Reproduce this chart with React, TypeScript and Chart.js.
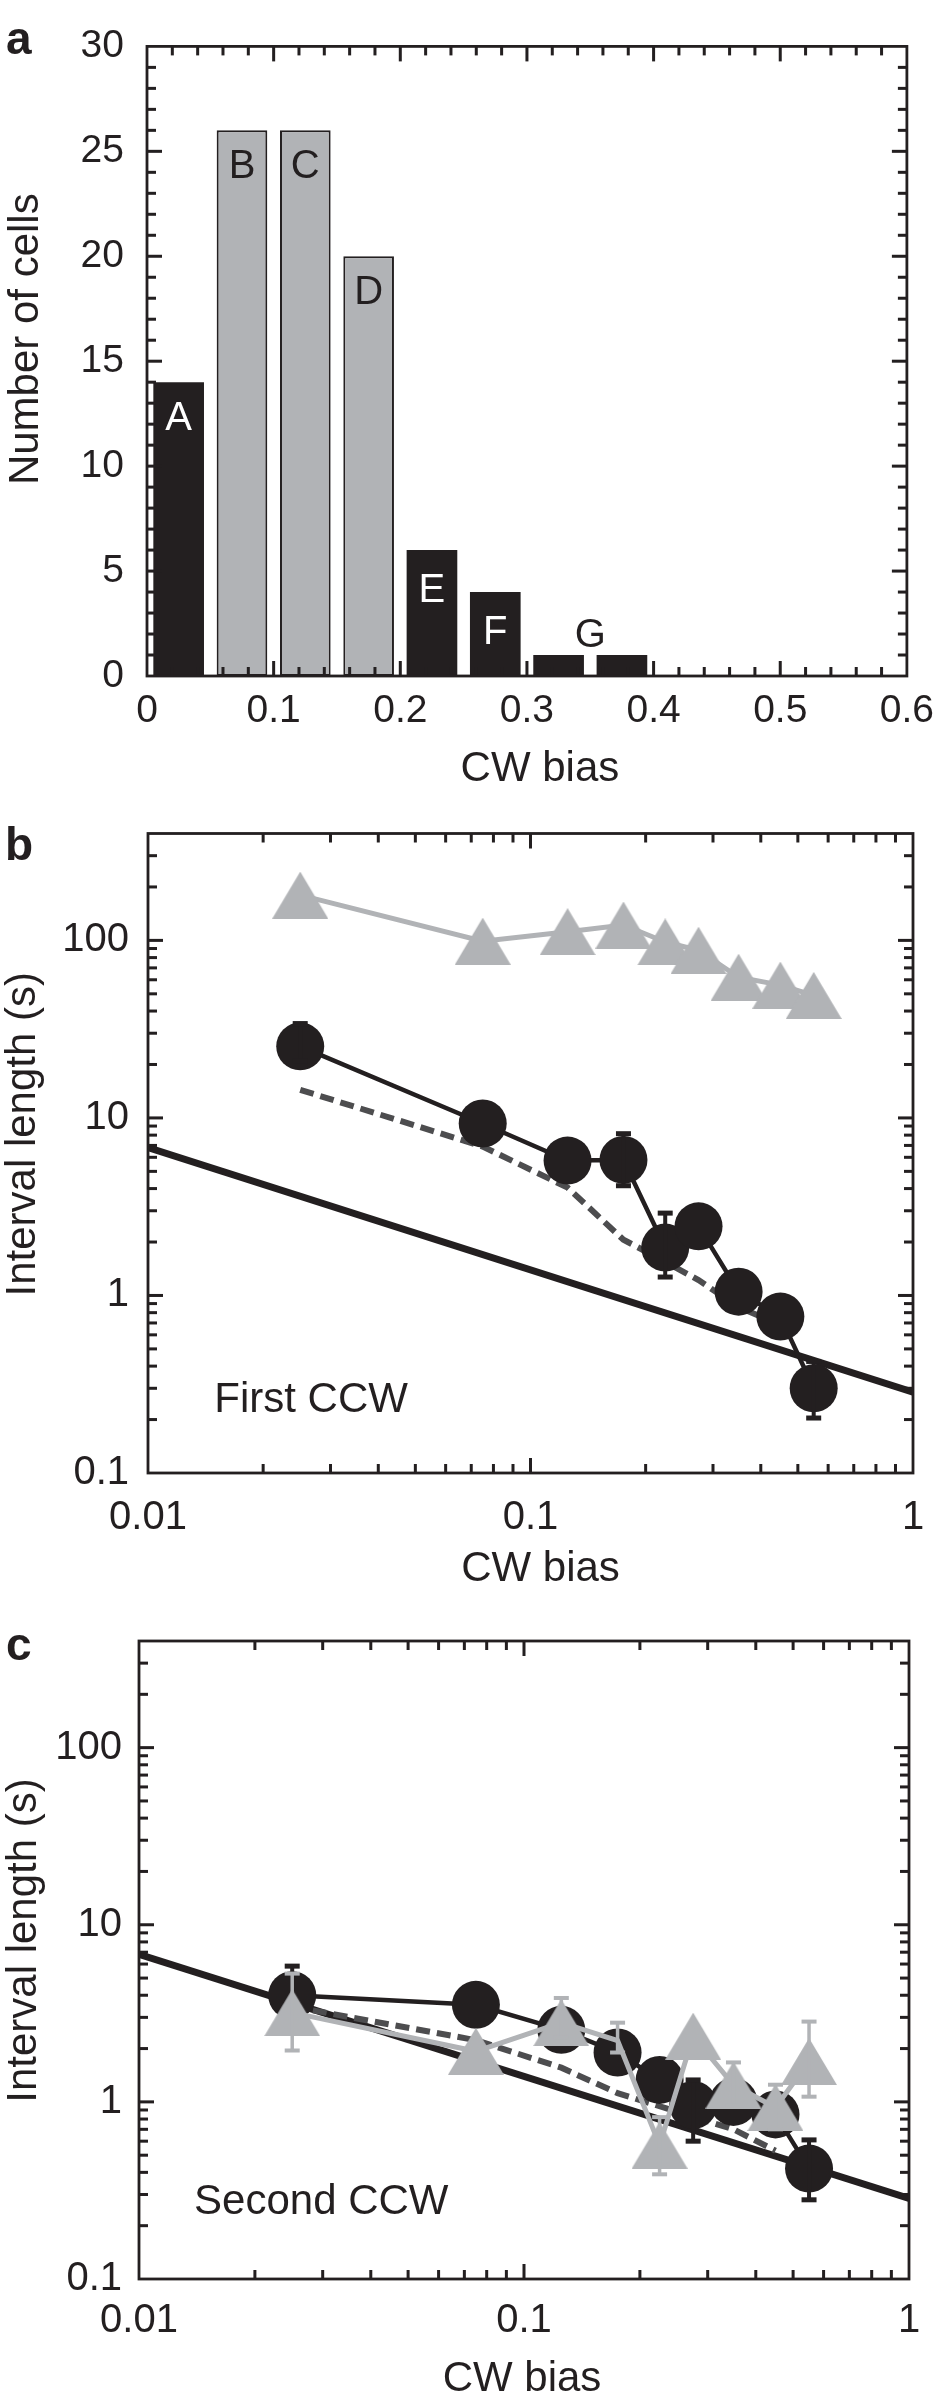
import React, { useEffect, useRef } from 'react';
import { Chart, registerables } from 'chart.js';

Chart.register(...registerables);

const FONT = '"Liberation Sans", Arial, Helvetica, sans-serif';
Chart.defaults.font.family = FONT;

const INK = '#231f20';
const GRAY = '#b1b3b6';
const MODEL_GRAY = '#4d4d4f';

// ---------------- Panel a: histogram ----------------
const binCenters = [0.025, 0.075, 0.125, 0.175, 0.225, 0.275, 0.325, 0.375];
const cellCounts = [14, 26, 26, 20, 6, 4, 1, 1];
const binIsGray = [false, true, true, true, false, false, false, false];
const groupLetters = ['A', 'B', 'C', 'D', 'E', 'F', 'G'];
const groupLetterBias = [0.025, 0.075, 0.125, 0.175, 0.225, 0.275, 0.35];
const groupLetterCount = [12.4, 24.4, 24.4, 18.4, 4.2, 2.2, 2.05];
const groupLetterWhite = [true, false, false, false, true, true, false];
const histXTicks = [0, 0.1, 0.2, 0.3, 0.4, 0.5, 0.6];
const histXTickLabels = ['0', '0.1', '0.2', '0.3', '0.4', '0.5', '0.6'];
const histYTicks = [0, 5, 10, 15, 20, 25, 30];
const histYTickLabels = ['0', '5', '10', '15', '20', '25', '30'];

// ---------------- Panels b and c: shared ----------------
const cwBias = [0.025, 0.075, 0.125, 0.175, 0.225, 0.275, 0.35, 0.45, 0.55];
const logXTicks = [0.01, 0.1, 1];
const logXTickLabels = ['0.01', '0.1', '1'];
const logYTicks = [0.1, 1, 10, 100];
const logYTickLabels = ['0.1', '1', '10', '100'];
const powerLawBias = [0.01, 1];
const powerLawLength = [6.8, 0.285];

// ---------------- Panel b: first CCW ----------------
const cwIntervalB = [180, 99, 112, 122, 98, 88, 62, 56, 49];
const ccwIntervalB = [25.3, 9.3, 5.75, 5.8, 1.86, 2.45, 1.05, 0.76, 0.3];
const ccwErrLowB = [21, null, null, 4.15, 1.27, null, null, null, 0.204];
const ccwErrHighB = [34, null, null, 8.15, 2.91, null, null, null, 0.425];
const modelBiasB = [0.025, 0.075, 0.125, 0.175, 0.225, 0.275, 0.35, 0.45];
const modelIntervalB = [14.4, 6.9, 4.05, 2.06, 1.55, 1.22, 0.86, 0.68];

// ---------------- Panel c: second CCW ----------------
const cwIntervalC = [3.19, 1.93, 2.8, 2.22, 0.57, 2.35, 1.245, 0.93, 1.69];
const cwMarkerShownC = [true, true, true, false, true, true, true, true, true];
const cwErrLowC = [1.95, null, 2.3, 1.9, 0.39, null, 0.95, 0.7, 1.07];
const cwErrHighC = [5.3, null, 3.86, 2.8, 0.82, null, 1.67, 1.25, 2.84];
const ccwIntervalC = [4.0, 3.53, 2.55, 1.9, 1.33, 0.96, 1.0, 0.85, 0.42];
const ccwErrLowC = [2.8, null, null, null, null, 0.6, null, null, 0.28];
const ccwErrHighC = [5.84, null, null, null, null, 1.33, null, null, 0.61];
const modelBiasC = [0.025, 0.075, 0.125, 0.175, 0.35, 0.45];
const modelIntervalC = [3.45, 2.23, 1.56, 1.12, 0.7, 0.53];

type Note = { text: string; x: number; y: number; color: string; size: number; align: CanvasTextAlign; centered: boolean };

type TextCfg = {
  letter: string;
  letterX: number;
  letterDy: number;
  xTitle: string;
  xTitleDx: number;
  xTitleDy: number;
  yTitle: string;
  yTitleX: number;
  yTitleDy: number;
  notes: Note[];
};

function framePlugin(cfg: { xMajor: number[]; xMinor: number[]; yMajor: number[]; yMinor: number[] }) {
  return {
    id: 'frameTicks',
    afterDraw(chart: any) {
      const { ctx, chartArea, scales } = chart;
      const { left, right, top, bottom } = chartArea;
      const xs = scales.x;
      const ys = scales.y;
      const MAJ = 15;
      const MIN = 9;
      const W = 3;
      ctx.save();
      ctx.fillStyle = INK;
      const vx = (vals: number[], len: number) => {
        for (const v of vals) {
          const p = xs.getPixelForValue(v);
          if (!(p > left + 1 && p < right - 1)) continue;
          ctx.fillRect(p - W / 2, bottom - len, W, len);
          ctx.fillRect(p - W / 2, top, W, len);
        }
      };
      const vy = (vals: number[], len: number) => {
        for (const v of vals) {
          const p = ys.getPixelForValue(v);
          if (!(p > top + 1 && p < bottom - 1)) continue;
          ctx.fillRect(left, p - W / 2, len, W);
          ctx.fillRect(right - len, p - W / 2, len, W);
        }
      };
      vx(cfg.xMajor, MAJ);
      vx(cfg.xMinor, MIN);
      vy(cfg.yMajor, MAJ);
      vy(cfg.yMinor, MIN);
      ctx.strokeStyle = INK;
      ctx.lineWidth = 2.8;
      ctx.setLineDash([]);
      ctx.strokeRect(left, top, right - left, bottom - top);
      ctx.restore();
    },
  };
}

function textPlugin(cfg: TextCfg) {
  return {
    id: 'panelText',
    afterDraw(chart: any) {
      const { ctx, chartArea, scales } = chart;
      const { left, right, top, bottom } = chartArea;
      const midX = (left + right) / 2;
      const midY = (top + bottom) / 2;
      ctx.save();
      ctx.fillStyle = INK;
      ctx.textBaseline = 'alphabetic';
      ctx.textAlign = 'left';
      ctx.font = `bold 46px ${FONT}`;
      ctx.fillText(cfg.letter, cfg.letterX, top + cfg.letterDy);

      ctx.font = `42px ${FONT}`;
      ctx.textAlign = 'center';
      ctx.fillText(cfg.xTitle, midX + cfg.xTitleDx, bottom + cfg.xTitleDy);

      ctx.save();
      ctx.translate(cfg.yTitleX, midY + cfg.yTitleDy);
      ctx.rotate(-Math.PI / 2);
      ctx.fillText(cfg.yTitle, 0, 0);
      ctx.restore();

      cfg.notes.forEach((n) => {
        ctx.font = `${n.size}px ${FONT}`;
        ctx.fillStyle = n.color;
        ctx.textAlign = n.align;
        ctx.textBaseline = 'alphabetic';
        const px = scales.x.getPixelForValue(n.x);
        const py = scales.y.getPixelForValue(n.y);
        ctx.fillText(n.text, px, n.centered ? py + n.size * 0.36 : py);
      });
      ctx.restore();
    },
  };
}

type ErrSpec = { low: (number | null)[]; high: (number | null)[]; color: string; width: number; capWidth: number };

function errorBarPlugin(specs: Record<number, ErrSpec>) {
  return {
    id: 'errorBars',
    afterDatasetDraw(chart: any, args: any) {
      const spec = specs[args.index];
      if (!spec) return;
      const ds = chart.data.datasets[args.index];
      const { ctx, scales } = chart;
      ctx.save();
      ctx.fillStyle = spec.color;
      ds.data.forEach((pt: any, i: number) => {
        const lo = spec.low[i];
        const hi = spec.high[i];
        if (lo == null || hi == null) return;
        const px = scales.x.getPixelForValue(pt.x);
        const pl = scales.y.getPixelForValue(lo);
        const ph = scales.y.getPixelForValue(hi);
        ctx.fillRect(px - spec.width / 2, Math.min(pl, ph), spec.width, Math.abs(pl - ph));
        ctx.fillRect(px - 7.5, pl - spec.capWidth / 2, 15, spec.capWidth);
        ctx.fillRect(px - 7.5, ph - spec.capWidth / 2, 15, spec.capWidth);
      });
      ctx.restore();
    },
  };
}

function makeTriangle(w: number, h: number, color: string) {
  const c = document.createElement('canvas');
  c.width = w;
  c.height = h;
  const g = c.getContext('2d')!;
  g.fillStyle = color;
  g.beginPath();
  g.moveTo(w / 2, 0);
  g.lineTo(w, h);
  g.lineTo(0, h);
  g.closePath();
  g.fill();
  return c;
}

function linearTicks(step: number, max: number) {
  const out: number[] = [];
  const n = Math.round(max / step);
  for (let i = 0; i <= n; i++) out.push(Number((i * step).toFixed(6)));
  return out;
}

function logMinorTicks(min: number, max: number) {
  const out: number[] = [];
  for (let e = Math.floor(Math.log10(min)); e <= Math.ceil(Math.log10(max)); e++) {
    for (let m = 2; m <= 9; m++) {
      const v = m * Math.pow(10, e);
      if (v > min && v < max) out.push(v);
    }
  }
  return out;
}

function buildHistogram(canvas: HTMLCanvasElement) {
  const tickFont = { family: FONT, size: 39 };
  return new Chart(canvas, {
    type: 'bar',
    data: {
      datasets: [
        {
          data: binCenters.map((x, i) => ({ x, y: cellCounts[i] })),
          backgroundColor: binIsGray.map((g) => (g ? GRAY : INK)),
          borderColor: INK,
          borderWidth: binIsGray.map((g) => (g ? 2 : 0)),
          borderSkipped: false,
          barPercentage: 0.8,
          categoryPercentage: 1,
        } as any,
      ],
    },
    options: {
      responsive: false,
      animation: false,
      events: [],
      layout: { padding: { left: 0, right: 29, top: 32, bottom: 0 } },
      plugins: { legend: { display: false }, tooltip: { enabled: false } },
      scales: {
        x: {
          type: 'linear',
          min: 0,
          max: 0.6,
          offset: false,
          grid: { display: false, drawTicks: false },
          border: { display: false },
          afterBuildTicks: (s: any) => {
            s.ticks = histXTicks.map((v) => ({ value: v }));
          },
          ticks: {
            callback: (_v: any, i: number) => histXTickLabels[i],
            font: tickFont,
            color: INK,
            padding: 12,
            maxRotation: 0,
            autoSkip: false,
          },
          afterFit: (s: any) => {
            s.height = 124;
          },
        } as any,
        y: {
          type: 'linear',
          min: 0,
          max: 30,
          grid: { display: false, drawTicks: false },
          border: { display: false },
          afterBuildTicks: (s: any) => {
            s.ticks = histYTicks.map((v) => ({ value: v }));
          },
          ticks: {
            callback: (_v: any, i: number) => histYTickLabels[i],
            font: tickFont,
            color: INK,
            padding: 23,
            autoSkip: false,
          },
          afterFit: (s: any) => {
            s.width = 147;
          },
        } as any,
      },
    },
    plugins: [
      framePlugin({
        xMajor: histXTicks,
        xMinor: linearTicks(0.02, 0.6).filter((v) => Math.abs(v * 10 - Math.round(v * 10)) > 1e-6),
        yMajor: histYTicks,
        yMinor: linearTicks(1, 30).filter((v) => v % 5 !== 0),
      }),
      textPlugin({
        letter: 'a',
        letterX: 6,
        letterDy: 8,
        xTitle: 'CW bias',
        xTitleDx: 13,
        xTitleDy: 105,
        yTitle: 'Number of cells',
        yTitleX: 38,
        yTitleDy: -22,
        notes: groupLetters.map((t, i) => ({
          text: t,
          x: groupLetterBias[i],
          y: groupLetterCount[i],
          color: groupLetterWhite[i] ? '#ffffff' : INK,
          size: 40,
          align: 'center' as CanvasTextAlign,
          centered: true,
        })),
      }),
    ],
  } as any);
}

type IntervalPanel = {
  cw: number[];
  cwShown: boolean[];
  cwLow: (number | null)[];
  cwHigh: (number | null)[];
  ccw: number[];
  ccwLow: (number | null)[];
  ccwHigh: (number | null)[];
  modelBias: number[];
  model: number[];
  padRight: number;
  padTop: number;
  yWidth: number;
  xHeight: number;
  xTickPad: number;
  yTickPad: number;
  text: TextCfg;
};

function buildIntervals(canvas: HTMLCanvasElement, p: IntervalPanel) {
  const tri = makeTriangle(56, 47, GRAY);
  const tickFont = { family: FONT, size: 40 };
  const yMin = 0.1;
  const yMax = 400;
  return new Chart(canvas, {
    type: 'line',
    data: {
      datasets: [
        {
          label: 'CW',
          data: cwBias.map((x, i) => ({ x, y: p.cw[i] })),
          borderColor: GRAY,
          borderWidth: 5,
          pointStyle: tri,
          pointRadius: p.cwShown.map((s) => (s ? 28 : 0)),
          tension: 0,
          fill: false,
          order: 0,
        },
        {
          label: 'CCW',
          data: cwBias.map((x, i) => ({ x, y: p.ccw[i] })),
          borderColor: INK,
          borderWidth: 4.5,
          pointStyle: 'circle',
          pointRadius: 24,
          pointBackgroundColor: INK,
          pointBorderWidth: 0,
          tension: 0,
          fill: false,
          order: 1,
        },
        {
          label: 'model',
          data: p.modelBias.map((x, i) => ({ x, y: p.model[i] })),
          borderColor: MODEL_GRAY,
          borderWidth: 6,
          borderDash: [14, 7],
          pointRadius: 0,
          tension: 0,
          fill: false,
          order: 2,
        },
        {
          label: 'power law',
          data: powerLawBias.map((x, i) => ({ x, y: powerLawLength[i] })),
          borderColor: INK,
          borderWidth: 7,
          pointRadius: 0,
          tension: 0,
          fill: false,
          order: 3,
        },
      ],
    },
    options: {
      responsive: false,
      animation: false,
      events: [],
      layout: { padding: { left: 0, right: p.padRight, top: p.padTop, bottom: 0 } },
      plugins: { legend: { display: false }, tooltip: { enabled: false } },
      scales: {
        x: {
          type: 'logarithmic',
          min: 0.01,
          max: 1,
          grid: { display: false, drawTicks: false },
          border: { display: false },
          afterBuildTicks: (s: any) => {
            s.ticks = logXTicks.map((v) => ({ value: v }));
          },
          ticks: {
            callback: (_v: any, i: number) => logXTickLabels[i],
            font: tickFont,
            color: INK,
            padding: p.xTickPad,
            maxRotation: 0,
            autoSkip: false,
          },
          afterFit: (s: any) => {
            s.height = p.xHeight;
          },
        } as any,
        y: {
          type: 'logarithmic',
          min: yMin,
          max: yMax,
          grid: { display: false, drawTicks: false },
          border: { display: false },
          afterBuildTicks: (s: any) => {
            s.ticks = logYTicks.map((v) => ({ value: v }));
          },
          ticks: {
            callback: (_v: any, i: number) => logYTickLabels[i],
            font: tickFont,
            color: INK,
            padding: p.yTickPad,
            autoSkip: false,
          },
          afterFit: (s: any) => {
            s.width = p.yWidth;
          },
        } as any,
      },
    },
    plugins: [
      errorBarPlugin({
        0: { low: p.cwLow, high: p.cwHigh, color: GRAY, width: 3.5, capWidth: 4 },
        1: { low: p.ccwLow, high: p.ccwHigh, color: INK, width: 4, capWidth: 5 },
      }),
      framePlugin({
        xMajor: logXTicks,
        xMinor: logMinorTicks(0.01, 1),
        yMajor: logYTicks,
        yMinor: logMinorTicks(yMin, yMax),
      }),
      textPlugin(p.text),
    ],
  } as any);
}

const panelB: IntervalPanel = {
  cw: cwIntervalB,
  cwShown: cwBias.map(() => true),
  cwLow: [],
  cwHigh: [],
  ccw: ccwIntervalB,
  ccwLow: ccwErrLowB,
  ccwHigh: ccwErrHighB,
  modelBias: modelBiasB,
  model: modelIntervalB,
  padRight: 27,
  padTop: 43.5,
  yWidth: 148,
  xHeight: 127,
  xTickPad: 21,
  yTickPad: 19,
  text: {
    letter: 'b',
    letterX: 5,
    letterDy: 26.5,
    xTitle: 'CW bias',
    xTitleDx: 10,
    xTitleDy: 108,
    yTitle: 'Interval length (s)',
    yTitleX: 35,
    yTitleDy: -19,
    notes: [{ text: 'First CCW', x: 0.0149, y: 0.221, color: INK, size: 42, align: 'left', centered: false }],
  },
};

const panelC: IntervalPanel = {
  cw: cwIntervalC,
  cwShown: cwMarkerShownC,
  cwLow: cwErrLowC,
  cwHigh: cwErrHighC,
  ccw: ccwIntervalC,
  ccwLow: ccwErrLowC,
  ccwHigh: ccwErrHighC,
  modelBias: modelBiasC,
  model: modelIntervalC,
  padRight: 37,
  padTop: 35,
  yWidth: 139,
  xHeight: 119,
  xTickPad: 18,
  yTickPad: 17,
  text: {
    letter: 'c',
    letterX: 6,
    letterDy: 19,
    xTitle: 'CW bias',
    xTitleDx: -2,
    xTitleDy: 112,
    yTitle: 'Interval length (s)',
    yTitleX: 36,
    yTitleDy: -19.5,
    notes: [{ text: 'Second CCW', x: 0.0139, y: 0.233, color: INK, size: 42, align: 'left', centered: false }],
  },
};

export default function App() {
  const aRef = useRef<HTMLCanvasElement>(null);
  const bRef = useRef<HTMLCanvasElement>(null);
  const cRef = useRef<HTMLCanvasElement>(null);

  useEffect(() => {
    const charts = [
      buildHistogram(aRef.current!),
      buildIntervals(bRef.current!, panelB),
      buildIntervals(cRef.current!, panelC),
    ];
    return () => charts.forEach((c) => c.destroy());
  }, []);

  const canvasStyle = (top: number, height: number): React.CSSProperties => ({
    position: 'absolute',
    left: 0,
    top,
    width: 946,
    height,
    display: 'block',
  });

  return (
    <div style={{ position: 'absolute', left: 0, top: 0, width: 946, height: 2398, background: '#ffffff', overflow: 'hidden' }}>
      <canvas ref={aRef} width={946} height={800} style={canvasStyle(0, 800)} />
      <canvas ref={bRef} width={946} height={810} style={canvasStyle(790, 810)} />
      <canvas ref={cRef} width={946} height={798} style={canvasStyle(1600, 798)} />
    </div>
  );
}
